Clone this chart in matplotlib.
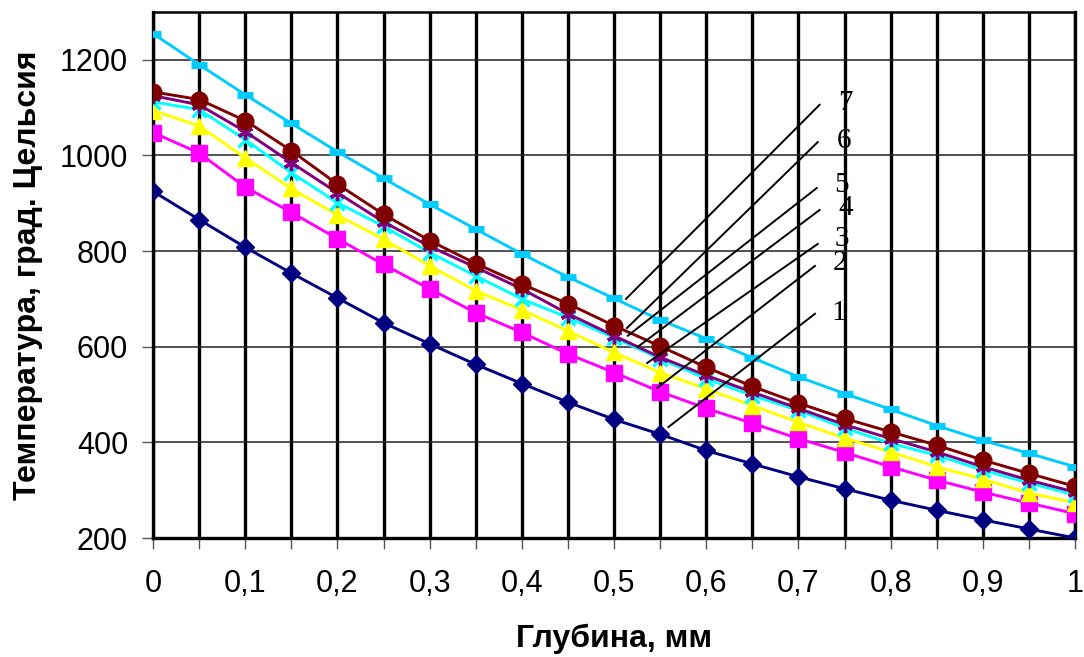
import numpy as np
import matplotlib
matplotlib.use('Agg')
import matplotlib.pyplot as plt
from matplotlib.ticker import MultipleLocator

plt.rcParams['font.family'] = ['Liberation Sans', 'DejaVu Sans']

# depth, mm
depth = np.round(np.arange(0, 1.0001, 0.05), 2)

# temperature curves, deg C
temp_1 = [925, 866, 808, 754, 702, 650, 606, 563, 523, 484, 448, 417, 383, 355, 328, 303, 279, 258, 238, 219, 200]
temp_2 = [1048, 1005, 934, 881, 826, 772, 721, 671, 630, 585, 546, 506, 471, 440, 408, 379, 349, 321, 296, 273, 251]
temp_3 = [1094, 1062, 995, 931, 875, 825, 769, 717, 677, 633, 588, 546, 512, 477, 442, 409, 380, 349, 323, 294, 274]
temp_4 = [1112, 1096, 1033, 964, 901, 852, 797, 748, 700, 661, 619, 575, 533, 498, 467, 430, 398, 373, 342, 315, 290]
temp_5 = [1125, 1106, 1050, 985, 922, 861, 810, 766, 721, 669, 623, 578, 540, 505, 471, 437, 408, 380, 349, 321, 296]
temp_6 = [1133, 1117, 1073, 1010, 940, 877, 822, 774, 731, 690, 644, 601, 557, 517, 482, 450, 422, 394, 363, 335, 308]
temp_7 = [1255, 1190, 1127, 1067, 1008, 952, 898, 846, 794, 746, 701, 656, 617, 577, 537, 502, 469, 435, 404, 377, 349]

curve_names = ['1', '2', '3', '4', '5', '6', '7']

# leader lines for the curve numbers
lead_x0 = [0.559, 0.547, 0.536, 0.526, 0.515, 0.514, 0.513]
lead_y0 = [432, 514, 566, 600, 623, 639, 700]
lead_x1 = [0.718, 0.718, 0.721, 0.723, 0.720, 0.721, 0.723]
lead_y1 = [669, 769, 815, 886, 932, 1028, 1106]
label_x = [0.744, 0.745, 0.747, 0.751, 0.747, 0.749, 0.751]
label_y = [671, 775, 825, 890, 938, 1031, 1110]

x_ticks = [0, 0.1, 0.2, 0.3, 0.4, 0.5, 0.6, 0.7, 0.8, 0.9, 1.0]
x_ticklabels = ['0', '0,1', '0,2', '0,3', '0,4', '0,5', '0,6', '0,7', '0,8', '0,9', '1']
y_ticks = [200, 400, 600, 800, 1000, 1200]

styles = [
    dict(color='#000080', marker='D', ms=9, mfc='#000080', mec='#000080'),
    dict(color='#FF00FF', marker='s', ms=11, mfc='#FF00FF', mec='#FF00FF'),
    dict(color='#FFFF00', marker='^', ms=12, mfc='#FFFF00', mec='#FFFF00'),
    dict(color='#00FFFF', marker='x', ms=10, mew=2.4, mec='#00FFFF'),
    dict(color='#800080', marker=(6, 2, 0), ms=11, mew=2.4, mec='#800080'),
    dict(color='#800000', marker='o', ms=12, mfc='#800000', mec='#800000'),
    dict(color='#00CCFF', marker='_', ms=12, mew=5, mec='#00CCFF'),
]

fig = plt.figure(figsize=(10.84, 6.57), dpi=100)
ax = fig.add_axes([153 / 1084, 1 - 538 / 657, 922 / 1084, 526 / 657])

series = [temp_1, temp_2, temp_3, temp_4, temp_5, temp_6, temp_7]
for vals, st in zip(series, styles):
    ax.plot(depth, vals, lw=2.1, zorder=3, **st)

for i, name in enumerate(curve_names):
    ax.plot([lead_x0[i], lead_x1[i]], [lead_y0[i], lead_y1[i]], color='black', lw=1.4, zorder=4)
    ax.text(label_x[i], label_y[i], name, family=['Liberation Serif', 'DejaVu Serif'],
            fontsize=21, ha='center', va='center', zorder=5)

ax.set_xlim(0, 1)
ax.set_ylim(200, 1300)
ax.set_xticks(x_ticks)
ax.set_xticklabels(x_ticklabels)
ax.xaxis.set_minor_locator(MultipleLocator(0.05))
ax.set_yticks(y_ticks)

ax.grid(True, axis='x', which='both', color='black', lw=2.4, zorder=1)
ax.grid(True, axis='y', which='major', color='#222222', lw=1.1, zorder=1)
ax.set_axisbelow(True)

for side in ['left', 'right', 'bottom']:
    ax.spines[side].set_linewidth(2.4)
ax.spines['top'].set_linewidth(1.8)

ax.tick_params(axis='both', which='both', length=8, width=1.0, color='#555555',
               labelsize=22, direction='out')
ax.tick_params(axis='x', pad=14)
ax.tick_params(axis='y', pad=10)

ax.set_xlabel('Глубина, мм', fontsize=23, fontweight='bold', labelpad=18)
ax.set_ylabel('Температура, град. Цельсия', fontsize=23, fontweight='bold', labelpad=12)

fig.savefig('out.png', dpi=100)
